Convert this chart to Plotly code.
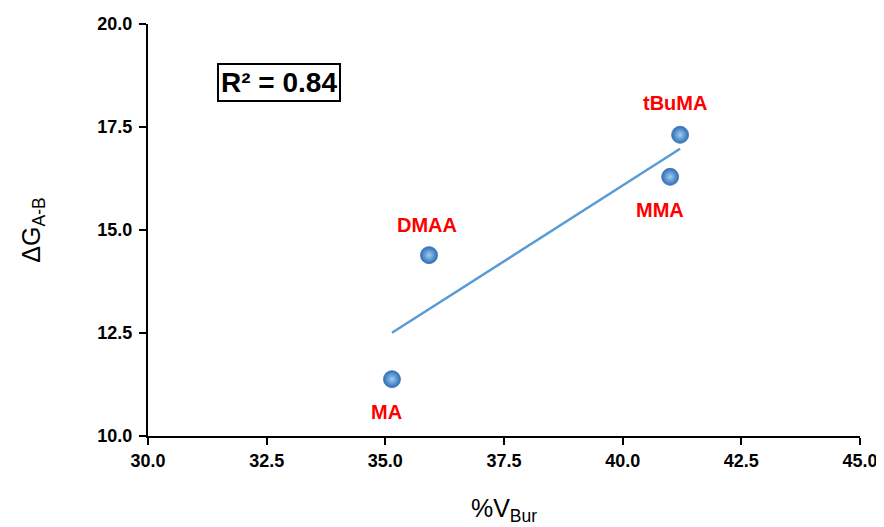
import numpy as np
import plotly.graph_objects as go

names = ["MA", "DMAA", "MMA", "tBuMA"]
vbur = [35.14, 35.92, 41.0, 41.21]
dg = [11.38, 14.39, 16.29, 17.31]
label_dx = [-5, -2, -10, -5]
label_dy = [-33, 30, -33, 32]
x_ticks = [30.0, 32.5, 35.0, 37.5, 40.0, 42.5, 45.0]
y_ticks = [10.0, 12.5, 15.0, 17.5, 20.0]
r2_text = "R² = 0.84"

FONT = "Liberation Sans, Arial"

slope, intercept = np.polyfit(vbur, dg, 1)
xfit = [min(vbur), max(vbur)]
yfit = [slope * v + intercept for v in xfit]

fig = go.Figure()
fig.add_trace(go.Scatter(
    x=xfit, y=yfit, mode="lines",
    line=dict(color="#5b9bd5", width=2.5),
    hoverinfo="skip", showlegend=False,
))
fig.add_trace(go.Scatter(
    x=vbur, y=dg, mode="markers",
    marker=dict(size=17, color="#2f6db5",
                gradient=dict(type="radial", color="#9fcdf3"),
                line=dict(width=0.8, color="#3a74b8")),
    showlegend=False,
))
for n, xv, yv, dx, dy in zip(names, vbur, dg, label_dx, label_dy):
    fig.add_annotation(
        x=xv, y=yv, xref="x", yref="y", text="<b>" + n + "</b>",
        showarrow=False, xshift=dx, yshift=dy,
        font=dict(family=FONT, size=20, color="#ff0000"),
    )

fig.add_annotation(
    x=32.76, y=18.59, xref="x", yref="y", text="<b>" + r2_text + "</b>",
    showarrow=False, font=dict(family=FONT, size=28, color="black"),
    bordercolor="black", borderwidth=2, borderpad=2, bgcolor="white",
)

axis_common = dict(
    showgrid=False, zeroline=False, showline=True, linecolor="black", linewidth=2,
    ticks="outside", ticklen=7, tickwidth=2, tickcolor="black",
    tickfont=dict(family=FONT, size=18, color="black", weight="bold"),
    automargin=False,
)
fig.update_xaxes(
    range=[30, 45], tickvals=x_ticks, ticktext=[f"{v:.1f}" for v in x_ticks],
    title=dict(text="%V<sub>Bur</sub>", font=dict(family=FONT, size=25, color="black"), standoff=30),
    **axis_common,
)
fig.update_yaxes(
    range=[10, 20], tickvals=y_ticks, ticktext=[f"{v:.1f}" for v in y_ticks],
    ticklabelstandoff=3,
    title=dict(text="ΔG<sub>A-B</sub>", font=dict(family=FONT, size=25, color="black"), standoff=50),
    **axis_common,
)
fig.update_layout(
    width=876, height=519,
    margin=dict(l=140, r=24, t=16, b=91),
    plot_bgcolor="white", paper_bgcolor="white",
)
fig.write_html("out.html")
